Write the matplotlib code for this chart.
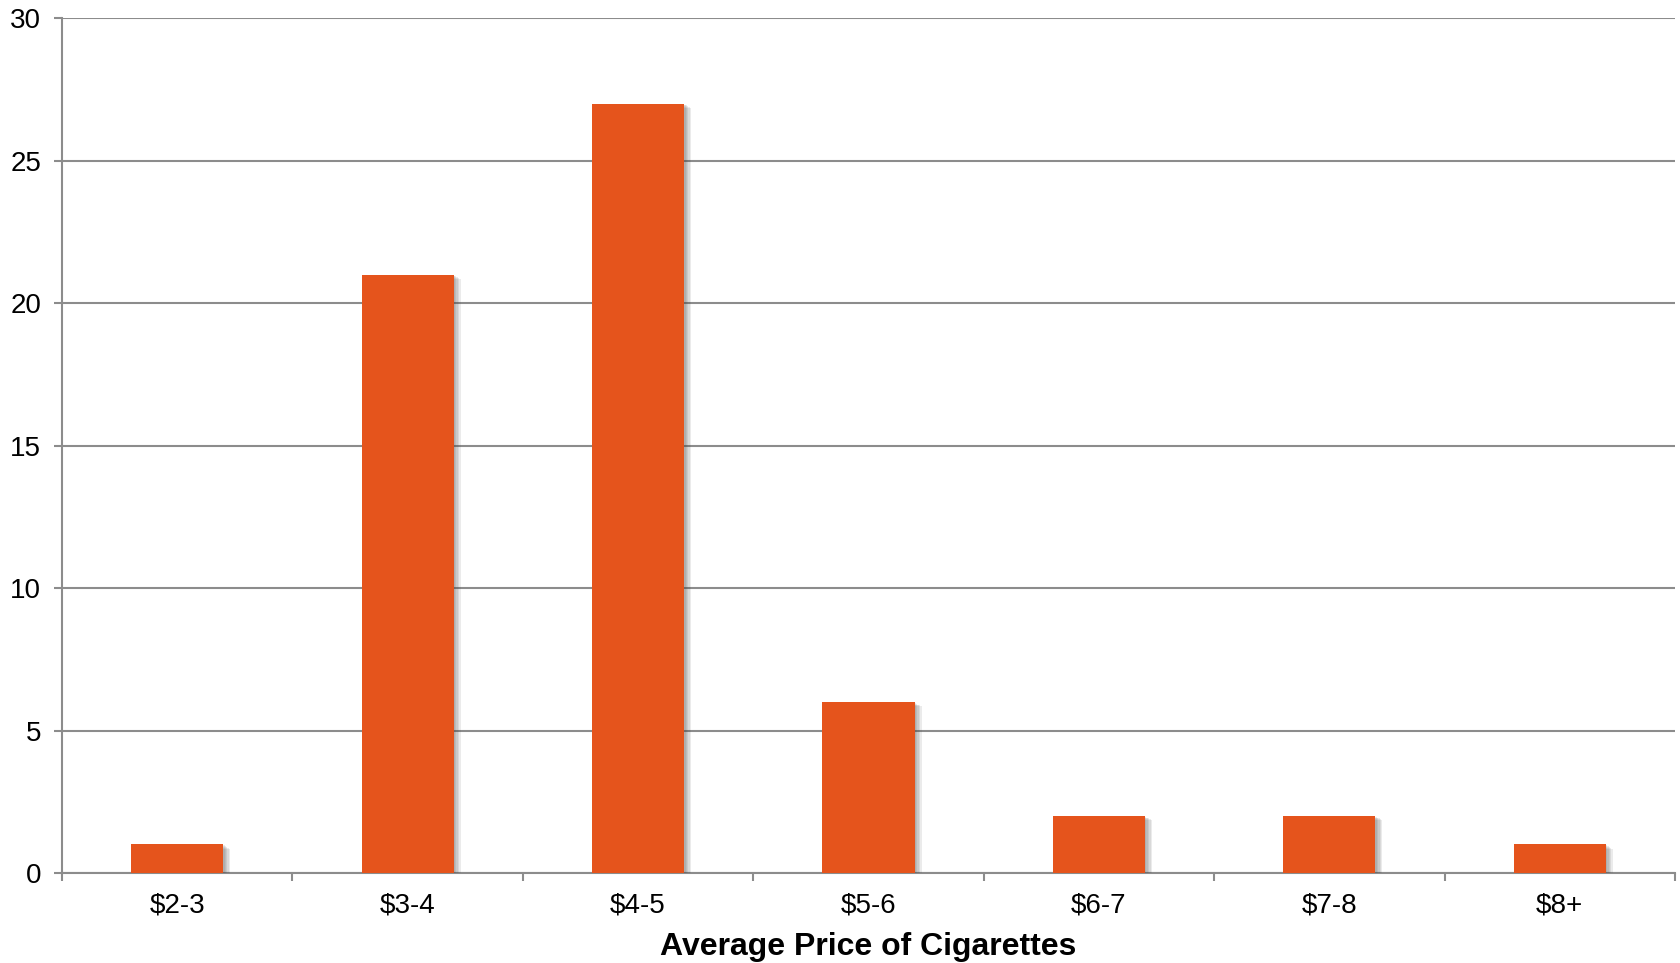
import matplotlib.pyplot as plt
import matplotlib.patheffects as pe
import numpy as np

plt.rcParams['font.family'] = ['Liberation Sans', 'DejaVu Sans']

price_bins = ['$2-3', '$3-4', '$4-5', '$5-6', '$6-7', '$7-8', '$8+']
counts = [1, 21, 27, 6, 2, 2, 1]

bar_color = '#E5541C'
line_color = '#8C8C8C'

fig = plt.figure(figsize=(16.8, 9.63), dpi=100)
ax = fig.add_axes([0.0369, 0.0935, 0.9601, 0.8875])

x = np.arange(len(price_bins))
bars = ax.bar(x, counts, width=0.4, color=bar_color, zorder=3)
# soft drop shadow built from a few faint offset copies
shadow = [pe.SimplePatchShadow(offset=(d, -d * 0.6), shadow_rgbFace='#444444', alpha=0.1)
          for d in (1, 2, 3, 4, 5)]
for b in bars:
    b.set_path_effects(shadow + [pe.Normal()])

ax.set_xlim(-0.5, len(price_bins) - 0.5)
ax.set_ylim(0, 30)
ax.set_yticks(range(0, 31, 5))
ax.yaxis.grid(True, color=line_color, linewidth=1.5, zorder=0)

ax.set_xticks(x)
ax.set_xticklabels(price_bins)
ax.set_xticks(np.arange(-0.5, len(price_bins)), minor=True)
ax.tick_params(axis='x', which='major', length=0, pad=14, labelsize=20)
ax.tick_params(axis='x', which='minor', length=6, width=1.5, color=line_color, direction='out')
ax.tick_params(axis='y', length=6, width=1.5, color=line_color, pad=9, labelsize=20)

for side in ['top', 'right']:
    ax.spines[side].set_visible(False)
for side in ['left', 'bottom']:
    ax.spines[side].set_color(line_color)
    ax.spines[side].set_linewidth(1.5)

ax.set_xlabel('Average Price of Cigarettes', fontsize=23, fontweight='bold', labelpad=10)

fig.savefig('out.png', dpi=100)
